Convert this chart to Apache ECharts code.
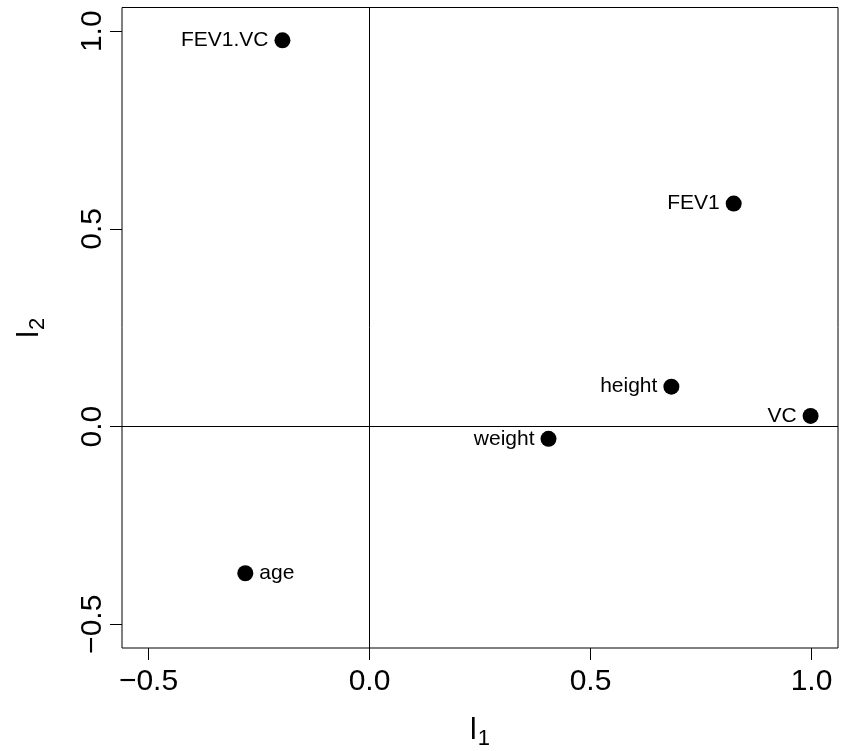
<!DOCTYPE html>
<html><head><meta charset="utf-8">
<script src="https://cdn.jsdelivr.net/npm/echarts@6/dist/echarts.min.js"></script>
<style>html,body{margin:0;padding:0;background:#fff}#c{width:845px;height:751px}</style>
</head><body><div id="c"></div>
<script>
const names = ['FEV1.VC', 'FEV1', 'height', 'VC', 'weight', 'age'];
const l1 = [-0.197, 0.824, 0.683, 0.998, 0.405, -0.281];
const l2 = [0.977, 0.564, 0.101, 0.027, -0.031, -0.371];
const labelSide = ['left', 'left', 'left', 'left', 'left', 'right'];
const xTicks = [-0.5, 0, 0.5, 1.0];
const yTicks = [-0.5, 0, 0.5, 1.0];

const FONT = 'Liberation Sans, Arial, Helvetica, sans-serif';
const fmt = v => (v < 0 ? '\u2212' : '') + Math.abs(v).toFixed(1);

const data = names.map((n, i) => ({
  value: [l1[i], l2[i]],
  name: n,
  label: { position: labelSide[i] }
}));

const titleRich = {
  a: { fontSize: 30, fontFamily: FONT, color: '#000' },
  b: { fontSize: 22, fontFamily: FONT, color: '#000', verticalAlign: 'bottom', padding: [16, 0, 0, 1] }
};

const chart = echarts.init(document.getElementById('c'), null, { renderer: 'canvas' });
chart.setOption({
  animation: false,
  backgroundColor: '#fff',
  grid: { left: 122, right: 7, top: 7.5, bottom: 103, outerBoundsMode: 'none', containLabel: false, show: true, borderColor: '#000', borderWidth: 1, backgroundColor: 'transparent' },
  xAxis: {
    type: 'value', min: -0.56, max: 1.06, position: 'bottom',
    axisLine: { show: false, onZero: false },
    splitLine: { show: false },
    axisTick: { show: true, inside: false, length: 12, customValues: xTicks, lineStyle: { color: '#000', width: 1 } },
    axisLabel: { customValues: xTicks, formatter: fmt, color: '#000', fontSize: 30, fontFamily: FONT, margin: 19 },
    name: '{a|l}{b|1}', nameLocation: 'middle', nameGap: 64,
    nameTextStyle: { rich: titleRich }
  },
  yAxis: {
    type: 'value', min: -0.56, max: 1.06, position: 'left',
    axisLine: { show: false, onZero: false },
    splitLine: { show: false },
    axisTick: { show: true, inside: false, length: 12, customValues: yTicks, lineStyle: { color: '#000', width: 1 } },
    axisLabel: { customValues: yTicks, formatter: fmt, color: '#000', fontSize: 30, fontFamily: FONT, margin: 14, rotate: 90 },
    name: '{a|l}{b|2}', nameLocation: 'middle', nameGap: 73, nameRotate: 90,
    nameTextStyle: { rich: titleRich }
  },
  series: [{
    type: 'scatter',
    data: data,
    symbol: 'circle',
    symbolSize: 16,
    itemStyle: { color: '#000', opacity: 1 },
    label: { show: true, formatter: '{b}', color: '#000', fontSize: 21, fontFamily: FONT, distance: 6 },
    emphasis: { disabled: true },
    markLine: {
      silent: true, symbol: 'none', animation: false,
      label: { show: false },
      lineStyle: { color: '#000', width: 1, type: 'solid', opacity: 1 },
      data: [{ xAxis: 0 }, { yAxis: 0 }]
    }
  }]
});
</script></body></html>
